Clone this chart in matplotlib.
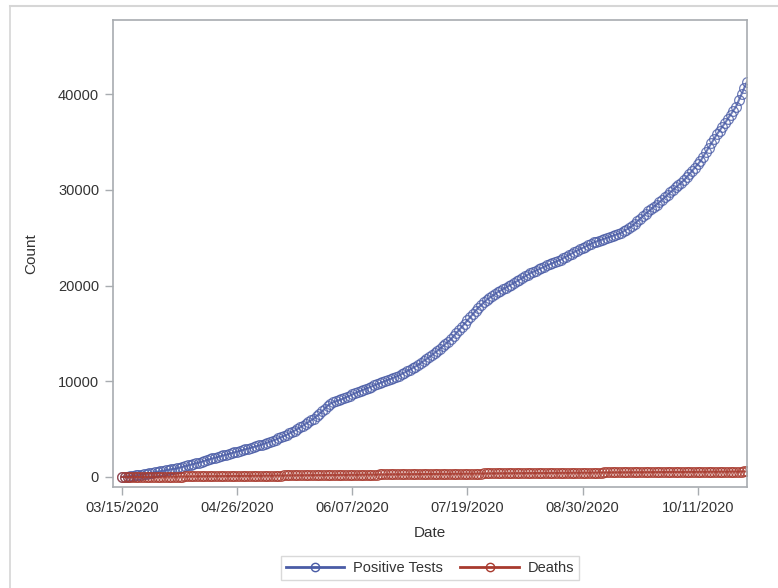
import matplotlib
matplotlib.use('Agg')
import matplotlib.pyplot as plt
import matplotlib.dates as mdates
from matplotlib.lines import Line2D
import pandas as pd

plt.rcParams['font.family'] = ['Liberation Sans', 'DejaVu Sans']

# daily cumulative counts starting 03/15/2020
start_date = '2020-03-15'
positive_tests = [
    0, 20, 45, 80, 120, 170, 210,
    250, 290, 340, 390, 440, 500, 550,
    600, 650, 700, 750, 800, 850, 900,
    980, 1050, 1120, 1200, 1280, 1360, 1430,
    1500, 1590, 1670, 1760, 1850, 1930, 2020,
    2100, 2180, 2250, 2330, 2410, 2490, 2570,
    2650, 2720, 2800, 2880, 2960, 3040, 3120,
    3200, 3290, 3390, 3490, 3590, 3690, 3800,
    3900, 4020, 4150, 4270, 4400, 4550, 4700,
    4850, 5000, 5180, 5360, 5540, 5730, 5920,
    6100, 6350, 6600, 6850, 7150, 7450, 7650,
    7800, 7900, 8000, 8100, 8230, 8360, 8490,
    8620, 8750, 8880, 9000, 9110, 9230, 9340,
    9450, 9570, 9680, 9800, 9910, 10020, 10140,
    10250, 10370, 10480, 10600, 10750, 10900, 11060,
    11210, 11370, 11530, 11700, 11900, 12100, 12300,
    12500, 12720, 12950, 13170, 13400, 13650, 13900,
    14150, 14400, 14720, 15050, 15370, 15700, 16030,
    16370, 16700, 17030, 17370, 17700, 17970, 18230,
    18500, 18700, 18900, 19100, 19300, 19460, 19620,
    19780, 19940, 20100, 20270, 20440, 20610, 20790,
    20960, 21130, 21300, 21430, 21570, 21700, 21830,
    21970, 22100, 22220, 22340, 22460, 22580, 22700,
    22860, 23020, 23180, 23340, 23500, 23640, 23790,
    23930, 24070, 24210, 24360, 24500, 24600, 24700,
    24800, 24900, 25000, 25100, 25200, 25300, 25400,
    25500, 25670, 25850, 26020, 26200, 26460, 26720,
    26980, 27240, 27500, 27740, 27980, 28220, 28460,
    28700, 28960, 29220, 29480, 29740, 30000, 30250,
    30500, 30750, 31000, 31330, 31670, 32000, 32330,
    32670, 33000, 33470, 33930, 34400, 34870, 35330,
    35800, 36200, 36600, 37000, 37420, 37850, 38270,
    38700, 39350, 40000, 40650, 41300,
]
deaths = [
    0, 0, 1, 1, 2, 3, 4,
    5, 7, 9, 11, 14, 17, 20,
    23, 26, 29, 32, 35, 38, 41,
    44, 47, 50, 52, 55, 57, 59,
    61, 64, 67, 70, 73, 76, 79,
    82, 85, 88, 91, 94, 97, 100,
    103, 106, 109, 112, 115, 118, 121,
    124, 127, 130, 133, 136, 139, 142,
    145, 148, 151, 154, 157, 160, 163,
    166, 169, 172, 175, 178, 181, 184,
    187, 190, 193, 196, 199, 202, 205,
    208, 211, 214, 217, 220, 223, 225,
    228, 231, 234, 237, 240, 243, 245,
    248, 251, 254, 257, 260, 263, 265,
    268, 271, 274, 277, 280, 282, 285,
    288, 291, 294, 296, 299, 302, 305,
    307, 310, 313, 316, 318, 321, 324,
    326, 329, 332, 334, 337, 340, 342,
    345, 348, 350, 353, 356, 358, 361,
    363, 366, 369, 371, 374, 376, 379,
    381, 384, 386, 389, 391, 394, 396,
    399, 401, 404, 406, 409, 411, 414,
    416, 418, 421, 423, 426, 428, 430,
    433, 435, 438, 440, 442, 445, 447,
    449, 452, 454, 456, 459, 461, 463,
    465, 468, 470, 472, 474, 476, 479,
    481, 483, 485, 487, 489, 491, 493,
    495, 497, 499, 501, 503, 505, 507,
    509, 511, 513, 515, 517, 519, 521,
    523, 525, 527, 529, 531, 533, 535,
    537, 539, 541, 543, 545, 547, 549,
    551, 553, 555, 557, 559, 561, 563,
    565, 567, 569, 571, 573,
]
tick_dates = ['2020-03-15', '2020-04-26', '2020-06-07', '2020-07-19', '2020-08-30', '2020-10-11']
y_ticks = [0, 10000, 20000, 30000, 40000]

dates = pd.date_range(start_date, periods=len(positive_tests), freq='D')

blue = '#4a5ca6'
red = '#a83a2e'
axis_gray = '#a8acb0'
text_col = '#333333'

fig = plt.figure(figsize=(7.78, 5.88), dpi=100)
fig.patch.set_facecolor('white')
ax = fig.add_axes([113 / 778, 1 - 487 / 588, (747 - 113) / 778, (487 - 20) / 588])

ax.plot(dates, positive_tests, color=blue, lw=1.5, marker='o', markersize=7,
        markerfacecolor='none', markeredgecolor=blue, markeredgewidth=0.9, alpha=0.8,
        label='Positive Tests')
ax.plot(dates, deaths, color=red, lw=1.5, marker='o', markersize=7,
        markerfacecolor='none', markeredgecolor=red, markeredgewidth=0.9, alpha=0.8,
        label='Deaths')

ax.set_xlim(pd.Timestamp(start_date) - pd.Timedelta(days=3.3), dates[-1])
ax.set_ylim(-1050, 47750)
ax.set_xticks(pd.to_datetime(tick_dates))
ax.xaxis.set_major_formatter(mdates.DateFormatter('%m/%d/%Y'))
ax.set_yticks(y_ticks)

for s in ax.spines.values():
    s.set_color(axis_gray)
    s.set_linewidth(1.2)
ax.tick_params(direction='out', length=6, width=1, color=axis_gray,
               labelsize=10.5, labelcolor=text_col, pad=4)

ax.set_xlabel('Date', fontsize=11, color=text_col, labelpad=8)
ax.set_ylabel('Count', fontsize=11, color=text_col, labelpad=14)

handles = [
    Line2D([], [], color=blue, lw=2, marker='o', markersize=6, markerfacecolor='none',
           markeredgecolor=blue),
    Line2D([], [], color=red, lw=2, marker='o', markersize=6, markerfacecolor='none',
           markeredgecolor=red),
]
leg = fig.legend(handles, ['Positive Tests', 'Deaths'], loc='center',
                 bbox_to_anchor=(430 / 778, 1 - 568 / 588), ncol=2, fontsize=10.5,
                 frameon=True, fancybox=False, handlelength=4, columnspacing=1.2,
                 handletextpad=0.6, borderpad=0.35)
leg.get_frame().set_edgecolor('#d0d0d0')
leg.get_frame().set_linewidth(1)
for t in leg.get_texts():
    t.set_color(text_col)

# outer frame of the output area
fig.add_artist(Line2D([10 / 778, 1], [1 - 6 / 588, 1 - 6 / 588], color='#d6d6d6', lw=1.5,
                      transform=fig.transFigure))
fig.add_artist(Line2D([10 / 778, 10 / 778], [0, 1 - 6 / 588], color='#d6d6d6', lw=1.2,
                      transform=fig.transFigure))

fig.savefig('out.png', dpi=100)
